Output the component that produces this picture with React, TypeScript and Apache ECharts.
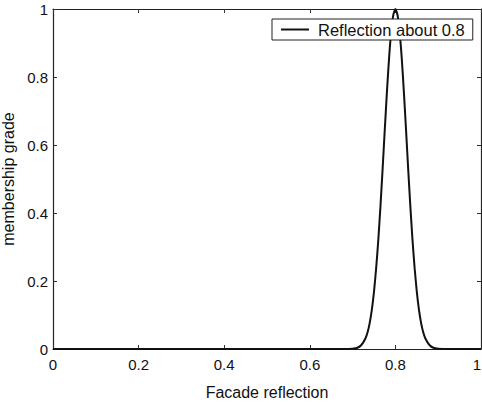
import React, { useEffect, useRef } from "react";
import * as echarts from "echarts";

const xValues = [0, 0.2, 0.4, 0.6, 0.68, 0.7, 0.71, 0.72, 0.73, 0.735, 0.74, 0.745, 0.75, 0.755, 0.76, 0.765, 0.77, 0.775, 0.78, 0.785, 0.79, 0.795, 0.8, 0.805, 0.81, 0.815, 0.82, 0.825, 0.83, 0.835, 0.84, 0.845, 0.85, 0.855, 0.86, 0.865, 0.87, 0.88, 0.89, 0.9, 0.92, 1.0];
const yValues = [0, 0, 0, 0, 0, 0.001, 0.003, 0.011, 0.031, 0.049, 0.077, 0.116, 0.169, 0.237, 0.32, 0.418, 0.527, 0.641, 0.752, 0.852, 0.931, 0.982, 1, 0.982, 0.931, 0.852, 0.752, 0.641, 0.527, 0.418, 0.32, 0.237, 0.169, 0.116, 0.077, 0.049, 0.031, 0.011, 0.003, 0.001, 0, 0];
const seriesName = "Reflection about 0.8";
const xTitle = "Facade reflection";
const yTitle = "membership grade";

const FONT = "Liberation Sans, Arial, Helvetica, sans-serif";

export default function App() {
  const ref = useRef<HTMLDivElement>(null);
  useEffect(() => {
    if (!ref.current) return;
    const chart = echarts.init(ref.current, null, { renderer: "svg" });
    const tickStyle = { show: true, inside: true, length: 4, lineStyle: { color: "#333", width: 1 } };
    const lineStyle = { color: "#222", width: 1.2 };
    chart.setOption({
      animation: false,
      backgroundColor: "#fff",
      textStyle: { fontFamily: FONT },
      grid: { left: 53, right: 1, top: 9, bottom: 54, outerBoundsMode: "none", containLabel: false },
      legend: {
        left: 272,
        top: 19,
        data: [seriesName],
        icon: "rect",
        backgroundColor: "#fff",
        borderColor: "#222",
        borderWidth: 1,
        borderRadius: 0,
        padding: [2, 8, 2, 9],
        itemWidth: 28,
        itemHeight: 2,
        itemStyle: { color: "#111" },
        textStyle: { fontSize: 16.5, color: "#111", fontFamily: FONT, padding: [0, 0, 0, 4] },
      },
      xAxis: [
        {
          type: "value",
          min: 0,
          max: 1,
          interval: 0.2,
          name: xTitle,
          nameLocation: "middle",
          nameGap: 35,
          nameTextStyle: { fontSize: 16, color: "#111", fontFamily: FONT },
          axisLine: { onZero: false, lineStyle },
          axisTick: tickStyle,
          axisLabel: { fontSize: 15, color: "#111", margin: 8, fontFamily: FONT, alignMaxLabel: "right" },
          splitLine: { show: false },
        },
        {
          type: "value",
          position: "top",
          min: 0,
          max: 1,
          interval: 0.2,
          axisLine: { show: true, onZero: false, lineStyle },
          axisTick: tickStyle,
          axisLabel: { show: false },
          splitLine: { show: false },
        },
      ],
      yAxis: [
        {
          type: "value",
          min: 0,
          max: 1,
          interval: 0.2,
          name: yTitle,
          nameLocation: "middle",
          nameGap: 35,
          nameTextStyle: { fontSize: 16, color: "#111", fontFamily: FONT },
          axisLine: { show: true, onZero: false, lineStyle },
          axisTick: tickStyle,
          axisLabel: { fontSize: 15, color: "#111", margin: 5, fontFamily: FONT },
          splitLine: { show: false },
        },
        {
          type: "value",
          position: "right",
          min: 0,
          max: 1,
          interval: 0.2,
          axisLine: { show: true, onZero: false, lineStyle },
          axisTick: tickStyle,
          axisLabel: { show: false },
          splitLine: { show: false },
        },
      ],
      series: [
        {
          name: seriesName,
          type: "line",
          data: xValues.map((x, i) => [x, yValues[i]]),
          symbol: "none",
          smooth: 0.2,
          lineStyle: { color: "#111", width: 2 },
          itemStyle: { color: "#111" },
        },
      ],
    });
    return () => chart.dispose();
  }, []);
  return <div ref={ref} style={{ width: 482, height: 403, position: "absolute", left: 0, top: 0 }} />;
}
